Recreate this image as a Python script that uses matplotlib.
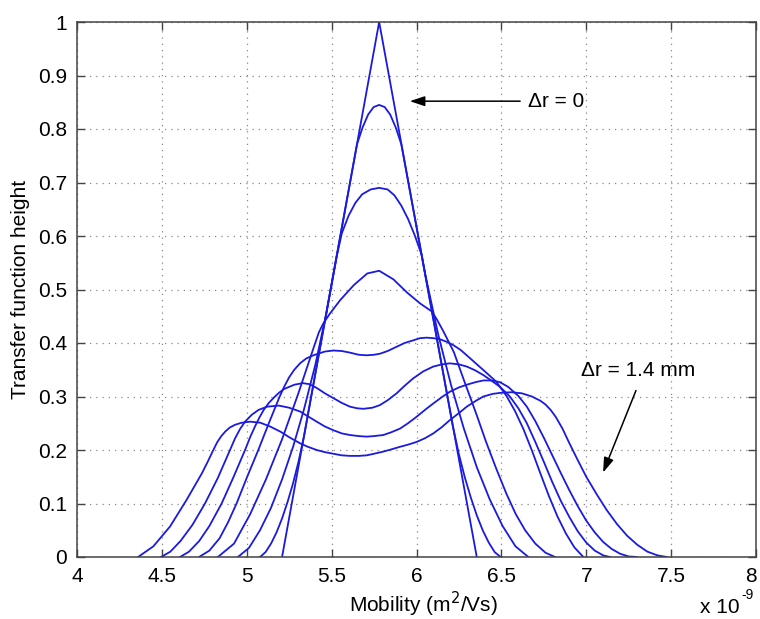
import matplotlib
matplotlib.use("Agg")
import matplotlib.pyplot as plt
import matplotlib.transforms as mtransforms

# ---- data (mobility in units of 1e-9 m^2/Vs) ----
c1_x = [5.208, 5.78, 6.355]
c1_y = [0.0, 1.0, 0.0]

c2_x = [5.078, 5.1105, 5.143, 5.1755, 5.208, 5.2405, 5.273, 5.3055, 5.338, 5.45, 5.55, 5.65,
        5.6825, 5.715, 5.7475, 5.78, 5.8125, 5.845, 5.8775, 5.91, 6.0, 6.1, 6.214,
        6.249, 6.2845, 6.32, 6.355, 6.39, 6.4255, 6.461, 6.496]
c2_y = [0.0, 0.009, 0.025, 0.046, 0.072, 0.103, 0.138, 0.179, 0.227, 0.423, 0.598, 0.772,
        0.803, 0.827, 0.841, 0.845, 0.841, 0.827, 0.803, 0.772, 0.617, 0.443, 0.245,
        0.193, 0.149, 0.111, 0.078, 0.050, 0.027, 0.009, 0.0]

c3_x = [4.948, 5.013, 5.078, 5.143, 5.208, 5.273, 5.338, 5.403, 5.468, 5.53, 5.56, 5.60, 5.64,
        5.68, 5.73, 5.78, 5.83, 5.87, 5.91, 5.95, 5.99, 6.03, 6.051, 6.127, 6.203, 6.279,
        6.355, 6.431, 6.507, 6.583, 6.659]
c3_y = [0.0, 0.017, 0.050, 0.092, 0.145, 0.206, 0.277, 0.358, 0.454, 0.562, 0.605, 0.638, 0.662,
        0.678, 0.687, 0.690, 0.687, 0.676, 0.657, 0.632, 0.601, 0.565, 0.529, 0.417, 0.322, 0.240,
        0.168, 0.108, 0.058, 0.020, 0.0]

c4_x = [4.83, 4.925, 5.02, 5.113, 5.208, 5.303, 5.398, 5.425, 5.45, 5.49, 5.55, 5.63, 5.71, 5.78,
        5.864, 5.942, 6.021, 6.09, 6.12, 6.158, 6.22, 6.28, 6.355, 6.41, 6.47, 6.53, 6.585, 6.64,
        6.70, 6.76, 6.816]
c4_y = [0.0, 0.025, 0.080, 0.145, 0.220, 0.305, 0.395, 0.420, 0.436, 0.455, 0.480, 0.508, 0.530, 0.535,
        0.519, 0.495, 0.474, 0.459, 0.444, 0.422, 0.383, 0.330, 0.265, 0.215, 0.165, 0.118, 0.080, 0.050,
        0.025, 0.008, 0.0]

c5_x = [4.719, 4.78, 4.84, 4.89, 4.94, 5.0, 5.068, 5.13, 5.19, 5.22, 5.25, 5.28, 5.314, 5.35, 5.392,
        5.46, 5.51, 5.56, 5.608, 5.66, 5.706, 5.75, 5.785, 5.83, 5.883, 5.93, 5.981, 6.02, 6.06,
        6.10, 6.138, 6.18, 6.217, 6.26, 6.296, 6.335, 6.374, 6.42, 6.472, 6.53, 6.58, 6.63, 6.68,
        6.73, 6.78, 6.83, 6.88, 6.93, 6.983]
c5_y = [0.0, 0.012, 0.035, 0.065, 0.100, 0.148, 0.200, 0.250, 0.297, 0.318, 0.336, 0.350, 0.362, 0.371,
        0.377, 0.384, 0.386, 0.385, 0.382, 0.378, 0.377, 0.378, 0.380, 0.385, 0.393, 0.400, 0.405,
        0.409, 0.410, 0.409, 0.407, 0.402, 0.396, 0.387, 0.377, 0.366, 0.355, 0.342, 0.327, 0.301,
        0.273, 0.239, 0.199, 0.156, 0.114, 0.076, 0.044, 0.018, 0.0]

c6_x = [4.607, 4.66, 4.72, 4.78, 4.852, 4.92, 4.99, 5.02, 5.05, 5.075, 5.10, 5.13, 5.16, 5.19,
        5.22, 5.28, 5.33, 5.37, 5.412, 5.46, 5.51, 5.56, 5.608, 5.65, 5.687, 5.74, 5.785, 5.83,
        5.883, 5.93, 5.981, 6.04, 6.099, 6.15, 6.197, 6.25, 6.296, 6.345, 6.394, 6.44, 6.492,
        6.55, 6.60, 6.65, 6.70, 6.75, 6.80, 6.85, 6.90, 6.95, 7.0, 7.05, 7.10, 7.14]
c6_y = [0.0, 0.010, 0.030, 0.058, 0.100, 0.148, 0.200, 0.224, 0.245, 0.261, 0.275, 0.288, 0.298, 0.307,
        0.314, 0.322, 0.325, 0.323, 0.316, 0.306, 0.297, 0.288, 0.281, 0.278, 0.277, 0.279, 0.284, 0.293,
        0.306, 0.320, 0.334, 0.347, 0.356, 0.360, 0.362, 0.360, 0.356, 0.349, 0.340, 0.330, 0.318,
        0.300, 0.278, 0.250, 0.215, 0.178, 0.140, 0.105, 0.075, 0.048, 0.027, 0.012, 0.003, 0.0]

c7_x = [4.495, 4.55, 4.61, 4.68, 4.754, 4.83, 4.90, 4.93, 4.96, 4.99, 5.03, 5.07, 5.12, 5.19,
        5.25, 5.314, 5.36, 5.412, 5.46, 5.51, 5.56, 5.608, 5.66, 5.706, 5.75, 5.804, 5.85, 5.903,
        5.95, 6.0, 6.05, 6.099, 6.15, 6.197, 6.25, 6.296, 6.35, 6.394, 6.44, 6.49, 6.54, 6.60,
        6.65, 6.70, 6.75, 6.80, 6.85, 6.90, 6.95, 7.0, 7.05, 7.10, 7.15, 7.20, 7.25, 7.297]
c7_y = [0.0, 0.010, 0.030, 0.060, 0.100, 0.148, 0.199, 0.221, 0.239, 0.253, 0.266, 0.275, 0.281, 0.283,
        0.279, 0.272, 0.263, 0.253, 0.244, 0.237, 0.231, 0.228, 0.226, 0.225, 0.226, 0.228, 0.233, 0.240,
        0.250, 0.262, 0.275, 0.287, 0.299, 0.309, 0.317, 0.322, 0.327, 0.330, 0.330, 0.327, 0.318, 0.301,
        0.281, 0.254, 0.223, 0.190, 0.157, 0.125, 0.095, 0.068, 0.046, 0.028, 0.015, 0.006, 0.001, 0.0]

c8_x = [4.36, 4.45, 4.548, 4.646, 4.735, 4.77, 4.80, 4.825, 4.85, 4.875, 4.90, 4.93, 4.97, 5.02,
        5.08, 5.137, 5.20, 5.255, 5.314, 5.36, 5.412, 5.46, 5.51, 5.56, 5.608, 5.66, 5.706, 5.75,
        5.804, 5.85, 5.903, 5.95, 6.0, 6.05, 6.099, 6.15, 6.197, 6.25, 6.296, 6.35, 6.394, 6.45,
        6.50, 6.56, 6.62, 6.68, 6.73, 6.76, 6.79, 6.82, 6.86, 6.90, 6.95, 7.0, 7.06, 7.12, 7.18,
        7.24, 7.30, 7.36, 7.42, 7.474]
c8_y = [0.0, 0.020, 0.057, 0.107, 0.156, 0.178, 0.198, 0.214, 0.226, 0.235, 0.242, 0.247, 0.251, 0.253,
        0.251, 0.244, 0.234, 0.223, 0.2125, 0.206, 0.200, 0.196, 0.193, 0.190, 0.189, 0.189, 0.190, 0.193,
        0.197, 0.201, 0.206, 0.210, 0.215, 0.222, 0.231, 0.243, 0.256, 0.269, 0.281, 0.292, 0.300, 0.305,
        0.307, 0.308, 0.306, 0.300, 0.292, 0.285, 0.275, 0.262, 0.240, 0.213, 0.181, 0.150, 0.118, 0.088,
        0.062, 0.040, 0.023, 0.010, 0.003, 0.0]

curves_x = [c1_x, c2_x, c3_x, c4_x, c5_x, c6_x, c7_x, c8_x]
curves_y = [c1_y, c2_y, c3_y, c4_y, c5_y, c6_y, c7_y, c8_y]

x_ticks = [4, 4.5, 5, 5.5, 6, 6.5, 7, 7.5, 8]
x_tick_labels = ["4", "4.5", "5", "5.5", "6", "6.5", "7", "7.5", "8"]
y_ticks = [0, 0.1, 0.2, 0.3, 0.4, 0.5, 0.6, 0.7, 0.8, 0.9, 1.0]
y_tick_labels = ["0", "0.1", "0.2", "0.3", "0.4", "0.5", "0.6", "0.7", "0.8", "0.9", "1"]

# ---- figure ----
plt.rcParams['font.family'] = ['Liberation Sans', 'DejaVu Sans']
W, H = 760, 619
fig = plt.figure(figsize=(W / 100, H / 100), dpi=100)
ax = fig.add_axes([77 / W, 1 - 557 / H, (756 - 77) / W, (557 - 22) / H])

for xs, ys in zip(curves_x, curves_y):
    ax.plot(xs, ys, color='#1a1ae0', lw=1.3, solid_joinstyle='round')

ax.set_xlim(4, 8)
ax.set_ylim(0, 1)
ax.set_xticks(x_ticks)
ax.set_xticklabels(x_tick_labels)
ax.set_yticks(y_ticks)
ax.set_yticklabels(y_tick_labels)
ax.tick_params(direction='in', length=6, width=1, color='#444444', labelsize=15,
               top=True, right=True, pad=7)
ax.grid(True, color='#888888', linestyle=(0, (1, 4)), linewidth=0.9)
ax.set_axisbelow(True)
for sp in ax.spines.values():
    sp.set_color('#444444')
    sp.set_linewidth(1.1)

# nudge the last x tick label so it stays inside the canvas
last_lbl = ax.get_xticklabels()[-1]
last_lbl.set_transform(last_lbl.get_transform() +
                       mtransforms.ScaledTranslation(-5 / 100, 0, fig.dpi_scale_trans))

fig.text(423 / W, 1 - 612 / H, "Mobility (m$^2$/Vs)", ha='center', va='baseline', fontsize=15)
fig.text(21 / W, 1 - 289 / H, "Transfer function height", ha='center', va='center',
         rotation=90, fontsize=15)
fig.text(700 / W, 1 - 613 / H, "x 10", ha='left', va='baseline', fontsize=15)
fig.text(741 / W, 1 - 599 / H, "-9", ha='left', va='baseline', fontsize=10)

ax.annotate("", xy=(5.944, 0.852), xytext=(6.627, 0.852),
            arrowprops=dict(arrowstyle='-|>,head_length=0.9,head_width=0.3', color='black', lw=1.1))
ax.text(6.657, 0.852, "\u0394r = 0", ha='left', va='center', fontsize=15)

ax.annotate("", xy=(7.093, 0.153), xytext=(7.299, 0.316),
            arrowprops=dict(arrowstyle='-|>,head_length=0.9,head_width=0.3', color='black', lw=1.1))
ax.text(7.305, 0.348, "\u0394r = 1.4 mm", ha='center', va='center', fontsize=15)

fig.savefig("out.png", dpi=100)
